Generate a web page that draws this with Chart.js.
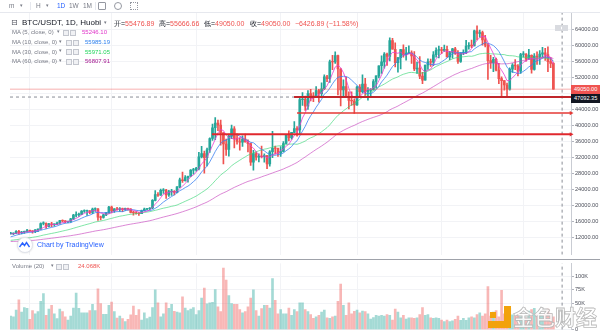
<!DOCTYPE html>
<html><head><meta charset="utf-8">
<script src="https://cdn.jsdelivr.net/npm/chart.js@4.4.1/dist/chart.umd.min.js"></script>
<style>
html,body{margin:0;padding:0;background:#fff;width:600px;height:334px;overflow:hidden;font-family:"Liberation Sans",Arial,sans-serif;}
#wrap{position:relative;width:600px;height:334px;overflow:hidden;}
canvas{position:absolute;left:0;}
.t{position:absolute;white-space:nowrap;line-height:1;}
.gray{color:#787b86;}
.ic{position:absolute;width:4px;height:4px;border:1px solid #c3c6ce;background:#f0f1f4;}
.axlab{position:absolute;left:571px;width:29px;height:9px;font-size:5.6px;line-height:9px;color:#fff;text-align:left;padding-left:3px;box-sizing:border-box;}
.or{position:absolute;background:#f2a20c;}
</style></head><body>
<div id="wrap">
<canvas id="price" width="600" height="259" style="top:0"></canvas>
<canvas id="vol" width="600" height="75" style="top:259px"></canvas>

<!-- toolbar -->
<div style="position:absolute;left:0;top:12px;width:600px;height:1px;background:#e6e8ee"></div>
<div class="t gray" style="left:9px;top:3px;font-size:6.5px">m</div>
<div class="t gray" style="left:20px;top:3px;font-size:5px">&#9662;</div>
<div style="position:absolute;left:30px;top:2px;width:1px;height:8px;background:#e6e8ee"></div>
<div class="t gray" style="left:36px;top:3px;font-size:6.5px">H</div>
<div class="t gray" style="left:46px;top:3px;font-size:5px">&#9662;</div>
<div class="t" style="left:57px;top:3px;font-size:6.5px;color:#2962ff">1D</div>
<div class="t gray" style="left:69px;top:3px;font-size:6.5px">1W</div>
<div class="t gray" style="left:83px;top:3px;font-size:6.5px">1M</div>
<div style="position:absolute;left:95px;top:2px;width:1px;height:8px;background:#e6e8ee"></div>
<div style="position:absolute;left:98px;top:2px;width:6px;height:6px;border:1px solid #9598a1;border-radius:1px"></div>
<div style="position:absolute;left:114px;top:2px;width:6px;height:6px;border:1px solid #9598a1;border-radius:50%"></div>
<div style="position:absolute;left:130px;top:2px;width:6px;height:6px;border:1px dotted #9598a1"></div>

<!-- title -->
<div class="t" style="left:11px;top:19px;font-size:8px;font-family:'DejaVu Sans';color:#50535e">&#8863;</div>
<div class="t" style="left:22px;top:19px;font-size:8px;color:#131722">BTC/USDT, 1D, Huobi</div>
<div class="t gray" style="left:104px;top:20px;font-size:5px">&#9662;</div>
<div class="t" style="left:114px;top:20px;font-size:7px;color:#131722">开=<span style="color:#ef5350">55476.89</span></div>
<div class="t" style="left:159px;top:20px;font-size:7px;color:#131722">高=<span style="color:#ef5350">55666.66</span></div>
<div class="t" style="left:204px;top:20px;font-size:7px;color:#131722">低=<span style="color:#ef5350">49050.00</span></div>
<div class="t" style="left:250px;top:20px;font-size:7px;color:#131722">收=<span style="color:#ef5350">49050.00</span></div>
<div class="t" style="left:295px;top:20px;font-size:7px;color:#ef5350">&#8722;6426.89 (&#8722;11.58%)</div>

<!-- MA legends -->
<div class="t gray" style="left:12px;top:29px;font-size:6px">MA (5, close, 0)</div>
<div class="t gray" style="left:57px;top:29.5px;font-size:4.5px">&#9662;</div>
<div class="ic" style="left:63px;top:29.5px"></div><div class="ic" style="left:70px;top:29.5px"></div>
<div class="t" id="v5" style="left:82px;top:29px;font-size:6px;color:#e033c9">55246.10</div>

<div class="t gray" style="left:12px;top:39px;font-size:6px">MA (10, close, 0)</div>
<div class="t gray" style="left:59px;top:39.5px;font-size:4.5px">&#9662;</div>
<div class="ic" style="left:66px;top:39.5px"></div><div class="ic" style="left:73px;top:39.5px"></div>
<div class="t" id="v10" style="left:85px;top:39px;font-size:6px;color:#2f80ed">55985.19</div>

<div class="t gray" style="left:12px;top:48.5px;font-size:6px">MA (30, close, 0)</div>
<div class="t gray" style="left:59px;top:49px;font-size:4.5px">&#9662;</div>
<div class="ic" style="left:66px;top:49px"></div><div class="ic" style="left:73px;top:49px"></div>
<div class="t" id="v30" style="left:85px;top:48.5px;font-size:6px;color:#22d55c">55971.05</div>

<div class="t gray" style="left:12px;top:58px;font-size:6px">MA (60, close, 0)</div>
<div class="t gray" style="left:59px;top:58.5px;font-size:4.5px">&#9662;</div>
<div class="ic" style="left:66px;top:58.5px"></div><div class="ic" style="left:73px;top:58.5px"></div>
<div class="t" id="v60" style="left:85px;top:58px;font-size:6px;color:#a3168f">56807.91</div>

<!-- top-right icons -->
<div class="ic" style="left:555px;top:25px;background:#d9dbe0;border-color:#d9dbe0"></div>
<div class="ic" style="left:562px;top:25px;background:#d9dbe0;border-color:#d9dbe0"></div>

<!-- TradingView credit -->
<div style="position:absolute;left:17px;top:237px;width:14px;height:14px;border-radius:50%;background:#fff;border:1px solid #e0e3eb;box-shadow:0 0 2px rgba(0,0,0,0.15)"></div>
<svg style="position:absolute;left:19px;top:241px" width="11" height="7" viewBox="0 0 11 7"><path d="M0.5 6 L3.5 2 L5.5 4.5 L7.5 1.5 L10.5 6" fill="none" stroke="#2962ff" stroke-width="1.4"/></svg>
<div class="t" style="left:37px;top:240.5px;font-size:7px;color:#2962ff">Chart by TradingView</div>

<!-- separator between panes -->
<div style="position:absolute;left:10px;top:259px;width:590px;height:1px;background:#9fa2aa"></div>

<!-- volume legend -->
<div class="t gray" style="left:12px;top:263px;font-size:6px">Volume (20)</div>
<div class="t gray" style="left:51px;top:263.5px;font-size:4.5px">&#9662;</div>
<div class="ic" style="left:56px;top:263.5px"></div><div class="ic" style="left:63px;top:263.5px"></div>
<div class="t" style="left:78px;top:263px;font-size:6px;color:#ef5350">24.068K</div>

<!-- axis price labels -->
<div class="axlab" id="lab1" style="background:#ef5350">49050.00</div>
<div class="axlab" id="lab2" style="background:#131722">47092.35</div>

<!-- watermark -->
<div class="or" style="left:504px;top:306px;width:7px;height:22px"></div>
<div class="or" style="left:488px;top:321px;width:23px;height:7px"></div>
<div class="or" style="left:490px;top:312px;width:6px;height:6px"></div>
<div class="t" style="left:513px;top:306px;font-size:21px;font-family:'Noto Sans CJK SC';font-weight:bold;color:rgba(255,255,255,0.85);-webkit-text-stroke:0.8px #b9b9b9">金色财经</div>
</div>

<script>
// ---------- data (Huobi BTC/USDT daily, 2020-10-25 .. 2021-05-12) ----------
const open = [13030,13070,13080,13640,13280,13460,13560,
13800,13760,13550,14020,14150,15590,15620,14830,15480,15330,15340,15700,16290,16250,16060,16080,16720,17660,17780,17820,18660,18710,18750,18370,19160,19250,17150,17100,17720,18180,
19700,18770,19220,19100,19300,19000,19360,19170,18320,18250,18100,18030,18800,19170,19270,19440,21340,22800,22650,23820,23900,22710,23500,23600,23300,24690,26490,26280,27030,27360,28880,
28920,29330,32180,33000,31990,33950,36770,39430,40580,40090,38150,35400,34050,37370,39150,36770,36010,35820,36630,35890,35470,30850,33000,32100,32290,32250,32510,30430,33470,34320,34300,
33110,33520,35510,37670,36960,38290,39260,38880,46450,46510,44840,47970,47410,47230,48690,47940,49160,52140,51680,55890,55840,57410,54090,48880,49680,47220,46280,46110,
45140,49590,48440,50350,48370,48750,48880,50970,52380,54880,55860,57800,57220,61190,59000,55640,56910,58910,57650,58030,58100,57350,54080,54340,52300,51290,55070,55880,55780,57630,58760,
58800,58740,58970,57060,58200,59130,58020,55950,58080,58090,59770,60000,59860,63580,62960,63160,61330,60010,56150,55660,56470,53800,51700,51190,50090,49070,54020,55030,54830,53550,
57700,57800,56570,57500,54000,57300,57000,57800,58100,57700,55900,55476.89];
const high = [13350,13250,13790,13860,13640,13700,14100,
13900,13830,14070,14250,15750,15970,15770,15650,15850,15470,15950,16340,16480,16330,16140,16880,17860,18480,18150,18800,18970,18900,18800,19420,19490,19300,17450,17880,18350,19860,
19900,19300,19600,19520,19400,19420,19410,19290,18640,18560,18290,18950,19410,19350,19570,21560,23770,23280,24170,24290,24100,23840,24100,23780,24780,26870,28420,27500,27400,28990,29300,
29600,33300,34780,33600,34360,36940,40360,41950,41380,41350,38260,36630,37850,40100,39700,37950,36850,37400,37850,36400,35600,33830,33460,32950,34880,32920,32560,33780,38530,34880,34380,
34720,35970,37680,38700,38320,40950,39700,46750,48200,47310,48680,48990,48180,49710,49000,50650,52620,52530,56330,57500,58350,57530,54180,51370,52040,48370,48400,46640,
49800,50200,52640,51770,49450,49200,51450,52400,54900,57390,58150,58060,61840,61700,60600,56940,58980,60100,59450,59880,58600,58430,55830,57200,53230,55070,56600,56560,58400,59370,59800,
59460,60030,59800,58500,59250,59450,58640,58150,58880,61200,60680,61300,63770,64850,63800,63520,62500,60400,57500,57000,56800,55500,52130,51200,50550,54360,55460,56420,55200,57960,
58450,57950,58980,57600,57900,58360,58650,59500,59200,59600,56900,55666.66];
const low = [12890,12800,13050,12920,12990,13130,13430,
13600,13200,13300,13530,14100,15200,14350,14700,14800,14900,15280,15430,15960,15700,15800,15870,16550,17200,17340,17760,18350,17620,18000,18050,18570,16330,16500,16880,17520,18180,
18200,18330,18880,18570,18500,18860,18900,18200,17650,17900,17570,18000,18710,19000,19050,19290,21220,22350,22550,23060,21810,22350,22600,22700,23200,24500,25800,26100,25880,27320,27850,
28620,28950,31950,28130,29900,33290,36300,36500,38720,35110,30420,32530,32380,36700,34410,35360,33850,34800,35850,33400,30070,28850,31390,30900,31910,30840,29240,29860,31990,32850,32300,
32300,33420,35400,36150,36580,38220,37350,37990,45000,43730,43990,46130,45950,47060,45800,47020,48950,50900,50710,53900,55480,47600,44900,47000,46980,44150,45000,43000,
45000,47050,48100,47500,46300,47070,48880,49330,51850,53000,54270,55000,56080,59000,54600,53270,54120,57000,56270,57820,55450,53650,53000,51700,50420,51290,53970,54700,54900,57000,56870,
57900,58440,57000,56400,56770,57700,55470,55700,57660,57870,59000,59400,59860,61300,62020,60000,59580,51500,54200,53400,53600,50400,47300,48800,47092.35,48800,53220,53900,52360,53000,
57050,56050,56450,53030,53800,55200,55250,56900,56200,53400,54400,49050];
const close = [13070,13080,13640,13280,13460,13560,13800,
13760,13550,14020,14150,15590,15620,14830,15480,15330,15340,15700,16290,16250,16060,16080,16720,17660,17780,17820,18660,18710,18750,18370,19160,19250,17150,17100,17720,18180,19700,
18770,19220,19100,19300,19000,19360,19170,18320,18250,18100,18030,18800,19170,19270,19440,21340,22800,22650,23820,23900,22710,23500,23600,23300,24690,26490,26280,27030,27360,28880,28920,
29330,32180,33000,31990,33950,36770,39430,40580,40090,38150,35400,34050,37370,39150,36770,36010,35820,36630,35890,35470,30850,33000,32100,32290,32250,32510,30430,33470,34320,34300,33110,
33520,35510,37670,36960,38290,39260,38880,46450,46510,44840,47970,47410,47230,48690,47940,49160,52140,51680,55890,55840,57410,54090,48880,49680,47220,46280,46110,45140,
49590,48440,50350,48370,48750,48880,50970,52380,54880,55860,57800,57220,61190,59000,55640,56910,58910,57650,58030,58100,57350,54080,54340,52300,51290,55070,55880,55780,57630,58760,58800,
58740,58970,57060,58200,59130,58020,55950,58080,58090,59770,60000,59860,63580,62960,63160,61330,60010,56150,55660,56470,53800,51700,51190,50090,49070,54020,55030,54830,53550,57700,
57800,56570,57500,54000,57300,57000,57800,58100,57700,55900,55476.89,49050];
// closes before the first visible day (needed for the moving averages)
const histClose = [11320,11530,11470,11710,11680,
11970,11410,10250,10510,10170,10280,10370,10130,10230,10350,10400,10440,10330,10680,10790,10950,10940,10930,11080,10920,10420,10530,10240,10740,10690,10730,10770,10690,10840,10780,
10620,10570,10550,10670,10790,10600,10670,10920,11050,11300,11380,11540,11430,11430,11500,11320,11360,11490,11750,11910,12820,12970,12930,13030];
// volume, thousands
const volumeK = [25.8,24,37,56,33,41.7,40,19.4,35.8,30,34,53.4,68,27,38.7,46,30,21,38.7,34,
24,18,25.8,40.5,69,40,31.7,31.7,31.7,35.8,47.5,35.8,77,49,29,29,45.8,52,34,22,
25.8,21,15,19.4,28,44.6,27,37.6,18,31.7,21,23.5,41.7,75,50.5,24,30,50.5,40,47.5,
34.6,33,31.7,62,40.5,35.8,38.7,41.7,
28.2,35.8,59.3,78.6,48.7,50.5,51.6,75.7,42.8,34,116.2,93.3,64,49.3,47.5,47.5,37.6,31.7,34,42.8,
59.3,75.1,35.8,25.8,39.9,45.8,45.8,40.5,96.2,55.2,29.9,37.6,29.9,29.9,40.5,27,37.6,34,50.5,50.5,
37.6,34,28.2,21.1,24.1,27,32.9,37,22.3,21.1,24.1,25.8,53.4,85.7,45.8,27,50.5,29.9,34.6,37,
31.7,35.2,34,29.9,20,22.9,27,25.8,
27,25.8,28.2,27,18.2,38.7,32.9,22.3,27,20,22.3,22.3,21.1,22.3,28.2,41.7,27,28.2,22.3,21.1,
22.3,21.1,18.2,15.3,18.2,15.3,16.4,19.4,25.8,17.6,21.1,17.6,22.3,24.1,22.3,28.2,31.7,25.8,29.9,81,
25.8,32.9,35.8,24.1,74,30,36,40,28,26,30,24,20,22,35,38,40,30,28,26,30,39,30,24.068];
const priceTicks = [12000,16000,20000,24000,28000,32000,36000,40000,44000,48000,52000,56000,60000,64000];
const volTicks = [0,50,75,100];
const maPeriods = [5,10,30,60];
// drawn levels: [value, first day index]
const levelValues = [47092.35, 43100, 37800];
const levelStarts = [103.9, 105.0, 73.8];
const lastPrice = 49050;
const crossPrice = 47092.35;
const crossIndex = 202.2;
const gridIdx = [7,37,68,99,127,158,188];

// ---------- layout constants ----------
const X0 = -0.257, X1 = 205.46;
const YMIN = 7819, YMAX = 68284;
const UP = '#26a69a', DN = '#ef5350';
const UPV = 'rgba(38,166,154,0.42)', DNV = 'rgba(239,83,80,0.42)';
const maColors = ['rgba(230,60,210,0.8)','rgba(60,130,240,0.8)','rgba(60,215,120,0.65)','rgba(200,70,190,0.65)'];

const N = close.length;
const idx = [...Array(N).keys()];
const isUp = idx.map(i => close[i] >= open[i]);
const allClose = histClose.concat(close);
const OFF = histClose.length;
function sma(n){
  return idx.map(i => { let s = 0; for (let k = 0; k < n; k++) s += allClose[OFF + i - k]; return {x: i, y: s / n}; });
}

const lineDs = (pts, color, width, extra) => Object.assign({type:'line', data: pts, borderColor: color, borderWidth: width, pointRadius: 0, fill:false, tension:0}, extra||{});

const datasets = [];
// user drawn levels
levelValues.forEach((v, k) => {
  const colors = ['#c0262b','#e53935','#e0282e'];
  const widths = [2, 1.5, 2];
  datasets.push(lineDs([{x: levelStarts[k], y: v}, {x: X1, y: v}], colors[k], widths[k], {
    order: 0, clip: false,
    pointRadius: [0, k === 0 ? 0 : 2.5], pointStyle: 'triangle', rotation: 90,
    pointBackgroundColor: colors[k], pointBorderWidth: 0
  }));
});
// last price line and crosshair
datasets.push(lineDs([{x: X0, y: lastPrice}, {x: X1, y: lastPrice}], 'rgba(239,83,80,0.45)', 1, {order: 1}));
datasets.push(lineDs([{x: X0, y: crossPrice}, {x: X1, y: crossPrice}], '#8a8d96', 1, {order: 1, borderDash: [3, 3]}));
datasets.push(lineDs([{x: crossIndex, y: YMIN}, {x: crossIndex, y: YMAX}], '#8a8d96', 1, {order: 1, borderDash: [3, 3]}));
// moving averages
maPeriods.forEach((p, k) => datasets.push(lineDs(sma(p), maColors[k], 1, {order: 2})));
// candles
datasets.push({type:'bar', data: idx.map(i => ({x: i, y: [open[i], close[i]]})), backgroundColor: idx.map(i => isUp[i] ? UP : DN), barThickness: 2, grouped: false, order: 3, minBarLength: 0.6});
datasets.push({type:'bar', data: idx.map(i => ({x: i, y: [low[i], high[i]]})), backgroundColor: idx.map(i => isUp[i] ? UP : DN), barThickness: 1, grouped: false, order: 4});

const fontAxis = {family: "'Liberation Sans', Arial, sans-serif", size: 5.6};

const priceChart = new Chart(document.getElementById('price'), {
  type: 'bar',
  data: {datasets},
  options: {
    responsive: false, animation: false, events: [],
    plugins: {legend: {display: false}, tooltip: {enabled: false}},
    layout: {padding: {left: 10, top: 12, right: 0, bottom: 0}},
    scales: {
      x: {type: 'linear', min: X0, max: X1, offset: false,
          grid: {offset: false, color: '#f2f3f6', drawTicks: false}, border: {display: false}, ticks: {display: false},
          afterBuildTicks: ax => { ax.ticks = gridIdx.map(v => ({value: v})); }},
      y: {type: 'linear', position: 'right', min: YMIN, max: YMAX, beginAtZero: false,
          grid: {color: '#f2f3f6', tickLength: 3, tickColor: '#b2b5be'},
          border: {display: true, color: '#c9ccd3'},
          ticks: {font: fontAxis, color: '#4c4f5a', padding: 1, callback: v => v.toFixed(2)},
          afterBuildTicks: ax => { ax.ticks = priceTicks.map(v => ({value: v})); },
          afterFit: ax => { ax.width = 29; }}
    }
  }
});

const volChart = new Chart(document.getElementById('vol'), {
  type: 'bar',
  data: {datasets: [
    lineDs([{x: crossIndex, y: 0}, {x: crossIndex, y: 125}], '#8a8d96', 1, {order: 0, borderDash: [3, 3]}),
    {type: 'bar', data: idx.map(i => ({x: i, y: volumeK[i]})), backgroundColor: idx.map(i => isUp[i] ? UPV : DNV), barThickness: 2, grouped: false, order: 1}
  ]},
  options: {
    responsive: false, animation: false, events: [],
    plugins: {legend: {display: false}, tooltip: {enabled: false}},
    layout: {padding: {left: 10, top: 0, right: 0, bottom: 4}},
    scales: {
      x: {type: 'linear', min: X0, max: X1, offset: false,
          grid: {offset: false, color: '#f2f3f6', drawTicks: false}, border: {display: false}, ticks: {display: false},
          afterBuildTicks: ax => { ax.ticks = gridIdx.map(v => ({value: v})); }},
      y: {type: 'linear', position: 'right', min: 0, max: 125,
          grid: {color: '#f2f3f6', tickLength: 3, tickColor: '#b2b5be'},
          border: {display: true, color: '#c9ccd3'},
          ticks: {font: fontAxis, color: '#4c4f5a', padding: 1, callback: v => v === 0 ? '0' : v + 'K'},
          afterBuildTicks: ax => { ax.ticks = volTicks.map(v => ({value: v})); },
          afterFit: ax => { ax.width = 29; }}
    }
  }
});

const ys = priceChart.scales.y;
document.getElementById('lab1').style.top = (ys.getPixelForValue(lastPrice) - 4.5) + 'px';
document.getElementById('lab2').style.top = (ys.getPixelForValue(crossPrice) - 3.5) + 'px';
</script>
</body></html>
